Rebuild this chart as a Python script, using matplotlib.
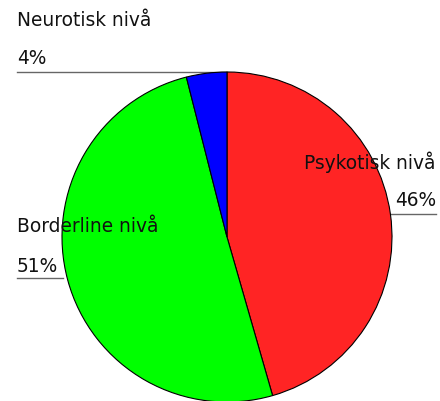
import matplotlib
matplotlib.use("Agg")
import matplotlib.pyplot as plt

categories = ["Psykotisk nivå", "Borderline nivå", "Neurotisk nivå"]
values = [46, 51, 4]
pct_labels = ["46%", "51%", "4%"]
colors = ["#ff2424", "#00ff00", "#0000ff"]

W, H = 440, 402
fig = plt.figure(figsize=(W / 100, H / 100), dpi=100)
ax = fig.add_axes([0, 0, 1, 1])

cx, cy, r = 227, H - 238, 165
ax.pie(values, colors=colors, startangle=90, counterclock=False,
       center=(cx, cy), radius=r, frame=True,
       wedgeprops=dict(edgecolor="black", linewidth=0.8))
ax.set_xlim(0, W)
ax.set_ylim(0, H)
ax.set_aspect("equal")
ax.axis("off")

fs = 13.4
tc = "#111111"
def Y(y):
    return H - y

# Neurotisk
ax.text(17, Y(21), categories[2], fontsize=fs, va="center", ha="left", color=tc)
ax.text(17, Y(58), pct_labels[2], fontsize=fs, va="center", ha="left", color=tc)
ax.plot([17, 227], [Y(73), Y(73)], color="#666666", lw=1, zorder=0)

# Psykotisk
ax.text(436, Y(162), categories[0], fontsize=fs, va="center", ha="right", color=tc, zorder=5)
ax.text(436, Y(201), pct_labels[0], fontsize=fs, va="center", ha="right", color=tc, zorder=5)
ax.plot([390, 436], [Y(215), Y(215)], color="#666666", lw=1, zorder=0)

# Borderline
ax.text(17, Y(227), categories[1], fontsize=fs, va="center", ha="left", color=tc, zorder=5)
ax.text(17, Y(266), pct_labels[1], fontsize=fs, va="center", ha="left", color=tc, zorder=5)
ax.plot([17, 63], [Y(279), Y(279)], color="#666666", lw=1, zorder=0)

fig.savefig("out.png", dpi=100)
